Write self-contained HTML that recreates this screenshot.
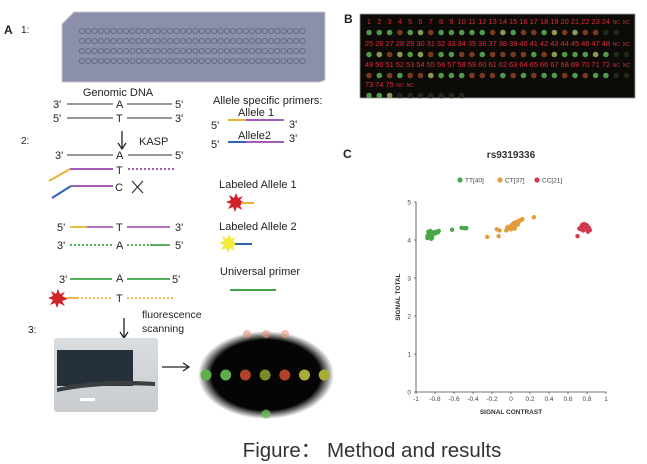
<!DOCTYPE html>
<html><head><meta charset="utf-8"><style>
html,body{margin:0;padding:0;background:#fff;}
svg{display:block;font-family:"Liberation Sans",sans-serif;}
</style></head><body>
<svg id="fig" width="647" height="464" viewBox="0 0 647 464">
<defs>
<radialGradient id="ellg" cx="50%" cy="50%" r="50%"><stop offset="80%" stop-color="#050505"/><stop offset="100%" stop-color="#050505" stop-opacity="0"/></radialGradient>
<linearGradient id="photog" x1="0" y1="0" x2="0" y2="1"><stop offset="0" stop-color="#d9dde0"/><stop offset="1" stop-color="#c9cccf"/></linearGradient>
</defs>
<g font-size="11" fill="#222">
<text x="4" y="34" font-weight="bold" font-size="12">A</text>
<text x="21" y="33" font-size="10">1:</text>
<g>
<path d="M74,12 L325,12 L325,80 L320,82 L62,82 L62,24 Z" fill="#8c8fac" stroke="#c8c8d4"/>
<g id="wells"></g>
</g>
<text x="118" y="96" text-anchor="middle">Genomic DNA</text>
<g stroke-width="1.6">
<text x="53" y="108">3'</text><line x1="67" y1="104" x2="113" y2="104" stroke="#777"/><text x="116" y="108">A</text><line x1="127" y1="104" x2="172" y2="104" stroke="#777"/><text x="175" y="108">5'</text>
<text x="53" y="122">5'</text><line x1="67" y1="118" x2="113" y2="118" stroke="#777"/><text x="116" y="122">T</text><line x1="127" y1="118" x2="172" y2="118" stroke="#777"/><text x="175" y="122">3'</text>
</g>
<text x="21" y="144" font-size="10">2:</text>
<g><line x1="122" y1="131" x2="122" y2="148" stroke="#222" stroke-width="1.3"/><path d="M118,143 L122,149 L126,143" fill="none" stroke="#222" stroke-width="1.3"/></g>
<text x="139" y="145">KASP</text>
<g stroke-width="1.6">
<text x="55" y="159">3'</text><line x1="67" y1="155" x2="113" y2="155" stroke="#777"/><text x="116" y="159">A</text><line x1="128" y1="155" x2="172" y2="155" stroke="#777"/><text x="175" y="159">5'</text>
<line x1="49" y1="181" x2="70" y2="169" stroke="#e8b33a" stroke-width="2"/><line x1="70" y1="169" x2="113" y2="169" stroke="#a45db5" stroke-width="2"/><text x="116" y="174">T</text><line x1="128" y1="169" x2="175" y2="169" stroke="#a45db5" stroke-width="2" stroke-dasharray="2,2"/>
<line x1="52" y1="198" x2="71" y2="186" stroke="#2f63b0" stroke-width="2"/><line x1="71" y1="186" x2="113" y2="186" stroke="#a45db5" stroke-width="2"/><text x="115" y="191">C</text>
<path d="M132,181 L143,193 M143,181 L132,193" stroke="#333" stroke-width="1.2"/>
</g>
<text x="213" y="104">Allele specific primers:</text>
<g>
<text x="238" y="116">Allele 1</text><text x="211" y="129">5'</text><line x1="228" y1="120" x2="246" y2="120" stroke="#e8b33a" stroke-width="2"/><line x1="246" y1="120" x2="284" y2="120" stroke="#a45db5" stroke-width="2"/><text x="289" y="128">3'</text>
<text x="238" y="139">Allele2</text><text x="211" y="148">5'</text><line x1="228" y1="142" x2="246" y2="142" stroke="#2f63b0" stroke-width="2"/><line x1="246" y1="142" x2="284" y2="142" stroke="#a45db5" stroke-width="2"/><text x="289" y="142">3'</text>
</g>
<text x="219" y="188">Labeled Allele 1</text>
<g><polygon points="236,193 238,198 243,196 240,200 245,203 240,205 242,210 237,207 235,212 233,207 228,209 231,204 226,202 231,200 229,195 234,198" fill="#d0202a"/><line x1="241" y1="203" x2="254" y2="203" stroke="#e8b33a" stroke-width="2"/></g>
<text x="219" y="230">Labeled Allele 2</text>
<g><polygon points="229,234 231,239 236,237 233,241 238,244 233,246 235,251 230,248 228,253 226,248 221,250 224,245 219,243 224,241 222,236 227,239" fill="#f2ea3c"/><line x1="235" y1="244" x2="252" y2="244" stroke="#2f63b0" stroke-width="2"/></g>
<g stroke-width="1.8">
<text x="57" y="231">5'</text><line x1="70" y1="227" x2="87" y2="227" stroke="#e8b33a"/><line x1="87" y1="227" x2="113" y2="227" stroke="#a45db5"/><text x="116" y="231">T</text><line x1="127" y1="227" x2="170" y2="227" stroke="#a45db5"/><text x="175" y="231">3'</text>
<text x="57" y="249">3'</text><line x1="70" y1="245" x2="112" y2="245" stroke="#3fa34a" stroke-dasharray="2,2"/><text x="116" y="249">A</text><line x1="127" y1="245" x2="150" y2="245" stroke="#3fa34a" stroke-dasharray="2,2"/><line x1="150" y1="245" x2="170" y2="245" stroke="#3fa34a"/><text x="175" y="249">5'</text>
<text x="59" y="283">3'</text><line x1="70" y1="279" x2="112" y2="279" stroke="#3fa34a"/><text x="116" y="282">A</text><line x1="127" y1="279" x2="170" y2="279" stroke="#3fa34a"/><text x="172" y="283">5'</text>
<polygon points="58,289 60,294 65,292 62,296 68,299 62,301 65,306 59,303 57,308 55,303 50,305 53,300 48,298 53,296 51,291 56,294" fill="#d0202a"/>
<line x1="66" y1="298" x2="77" y2="298" stroke="#e8b33a"/><line x1="77" y1="298" x2="112" y2="298" stroke="#e8b33a" stroke-dasharray="2,2"/><text x="116" y="302">T</text><line x1="127" y1="298" x2="173" y2="298" stroke="#e8b33a" stroke-dasharray="2,2"/>
</g>
<text x="220" y="275">Universal primer</text>
<line x1="230" y1="290" x2="276" y2="290" stroke="#3fa34a" stroke-width="2"/>
<text x="28" y="333" font-size="10">3:</text>
<g><line x1="124" y1="318" x2="124" y2="337" stroke="#222" stroke-width="1.3"/><path d="M120,332 L124,338 L128,332" fill="none" stroke="#222" stroke-width="1.3"/></g>
<text x="142" y="318" font-size="10.5">fluorescence</text>
<text x="142" y="332" font-size="10.5">scanning</text>
<g>
<rect x="54" y="338" width="104" height="74" fill="url(#photog)" rx="3"/>
<rect x="57" y="350" width="76" height="36" fill="#26303a"/>
<path d="M57,388 Q100,378 155,382 L155,386 Q100,383 57,392 Z" fill="#3a3f44"/>
<rect x="80" y="398" width="15" height="3" fill="#fff"/>
</g>
<g><line x1="162" y1="367" x2="188" y2="367" stroke="#222" stroke-width="1.3"/><path d="M183,363 L189,367 L183,371" fill="none" stroke="#222" stroke-width="1.3"/></g>
<g>
<ellipse cx="266" cy="375" rx="68" ry="44" fill="url(#ellg)"/>
<g id="scandots"></g>
</g>
</g>
<text x="344" y="23" font-weight="bold" font-size="12" fill="#222">B</text>
<rect x="360" y="14" width="275" height="84" fill="#0d0b08" stroke="#999" stroke-width="0.8"/>
<g id="plateB"></g>
<text x="343" y="158" font-weight="bold" font-size="12" fill="#222">C</text>
<text x="511" y="158" text-anchor="middle" font-weight="bold" font-size="10" fill="#333">rs9319336</text>
<g id="legend" font-size="6.5" fill="#444"></g>
<g id="chart"></g>
<text x="372" y="457" text-anchor="middle" font-size="20.5" fill="#333">Figure：&#160;Method and results</text>
</svg>
<script>
const groups = ["TT[40]","CT[37]","CC[21]"];
const groupColors = ["#4aa84a","#e39b3c","#d2394a"];
const ttX = [-0.88,-0.87,-0.86,-0.85,-0.84,-0.83,-0.82,-0.88,-0.86,-0.84,-0.82,-0.8,-0.87,-0.85,-0.83,-0.81,-0.79,-0.77,-0.76,-0.86,-0.84,-0.62,-0.52,-0.49,-0.47];
const ttY = [4.1,4.15,4.2,4.12,4.18,4.14,4.2,4.05,4.08,4.1,4.16,4.17,4.22,4.24,4.06,4.2,4.22,4.2,4.24,4.13,4.03,4.27,4.32,4.31,4.31];
const ctX = [-0.25,-0.13,-0.15,-0.12,-0.05,-0.03,-0.02,0,0.01,0.02,0.03,0.04,0.05,0.06,0.07,0.08,0.09,0.1,0.11,0.12,-0.01,0.02,0.04,0.06,-0.04,0.24];
const ctY = [4.08,4.1,4.28,4.25,4.25,4.3,4.35,4.28,4.4,4.32,4.45,4.38,4.42,4.48,4.4,4.47,4.5,4.52,4.53,4.55,4.3,4.36,4.3,4.44,4.33,4.6];
const ccX = [0.7,0.72,0.74,0.75,0.76,0.77,0.78,0.79,0.8,0.81,0.82,0.83,0.76,0.79,0.81,0.74,0.77];
const ccY = [4.1,4.3,4.35,4.4,4.3,4.42,4.35,4.28,4.38,4.3,4.32,4.26,4.25,4.4,4.22,4.28,4.33];
const xTicks = [-1,-0.8,-0.6,-0.4,-0.2,0,0.2,0.4,0.6,0.8,1];
const yTicks = [0,1,2,3,4,5];
const plateLabels = [
 ["1","2","3","4","5","6","7","8","9","10","11","12","13","14","15","16","17","18","19","20","21","22","23","24","NC","NC"],
 ["25","26","27","28","29","30","31","32","33","34","35","36","37","38","39","40","41","42","43","44","45","46","47","48","NC","NC"],
 ["49","50","51","52","53","54","55","56","57","58","59","60","61","62","63","64","65","66","67","68","69","70","71","72","NC","NC"],
 ["73","74","75","NC","NC"]];
const plateCalls = [
 "GGGRGYRGGGGGRYGRRGYRYRRNN",
 "GYRYGYRGGRRGRRRRGRYGGGYGNN",
 "RGRGRRYGGGRRRGRGRGGRGRGGNN",
 "GGYNNNNNNN"];
const scanCalls = ["G","G","R","O","R","Y","Y"];
</script>
<script>
const NS="http://www.w3.org/2000/svg";
function mk(tag,attrs,parent){const e=document.createElementNS(NS,tag);for(const k in attrs)e.setAttribute(k,attrs[k]);parent.appendChild(e);return e;}
const wells=document.getElementById('wells');
for(let r=0;r<4;r++){for(let c=0;c<36;c++){
 const w=mk('circle',{cx:82+c*6.3,cy:31+r*10,r:2.6,fill:'none',stroke:'#5f627c','stroke-width':0.8},wells);
 
 
}}
const sd=document.getElementById('scandots');
const scol={G:'#5fae4a',R:'#b0402a',O:'#7d8a2a',Y:'#a8ad38'};
scanCalls.forEach((c,i)=>{const d=mk('circle',{cx:206+i*19.7,cy:375,r:5.5,fill:scol[c]},sd);
 
 });
[247,266,285].forEach((x,i)=>{const d=mk('circle',{cx:x,cy:334,r:4,fill:'#e6957a',opacity:0.6},sd);
 
 });
{const d=mk('circle',{cx:266,cy:414,r:4.5,fill:'#6bbf5a',opacity:0.8},sd);
 
 }
const pb=document.getElementById('plateB');
const pcol={G:'#4e9a4a',R:'#7a3a22',Y:'#8a9a55',N:'#1f2a1a'};
const rowY=[24,46,67,87];
plateLabels.forEach((row,r)=>{row.forEach((lab,c)=>{
 const nc=lab==="NC";
 const x=369+c*10.3;
 const t=mk('text',{x:x,y:rowY[r],'text-anchor':'middle','font-size':nc?5:7.5,fill:'#e0283a'},pb);
 t.textContent=lab;
 
 
});
 const calls=plateCalls[r];
 for(let c=0;c<calls.length;c++){
  const d=mk('circle',{cx:369+c*10.3,cy:rowY[r]+8.5,r:2.8,fill:pcol[calls[c]]},pb);
  
  
 }
});
const X0=416,X1=606,Y0=392,Y1=202;
const sx=v=>X0+(v+1)/2*(X1-X0);
const sy=v=>Y0-v/5*(Y0-Y1);
const ch=document.getElementById('chart');
const xa=mk('line',{x1:X0,y1:Y0,x2:X1,y2:Y0,stroke:'#444','stroke-width':0.8},ch);


const ya=mk('line',{x1:X0,y1:Y0,x2:X0,y2:Y1,stroke:'#444','stroke-width':0.8},ch);


xTicks.forEach(v=>{mk('line',{x1:sx(v),y1:Y0,x2:sx(v),y2:Y0+2,stroke:'#444','stroke-width':0.7},ch);
 const t=mk('text',{x:sx(v),y:Y0+9,'text-anchor':'middle','font-size':6.5,fill:'#444'},ch);t.textContent=String(v);
 
 });
yTicks.forEach(v=>{mk('line',{x1:X0-2,y1:sy(v),x2:X0,y2:sy(v),stroke:'#444','stroke-width':0.7},ch);
 const t=mk('text',{x:X0-5,y:sy(v)+2.5,'text-anchor':'end','font-size':6.5,fill:'#444'},ch);t.textContent=String(v);
 
 });
const xt=mk('text',{x:511,y:414,'text-anchor':'middle','font-size':6.5,'font-weight':'bold',fill:'#333'},ch);xt.textContent="SIGNAL CONTRAST";


const yt=mk('text',{x:0,y:0,'text-anchor':'middle','font-size':6.5,'font-weight':'bold',fill:'#333',transform:'translate(400,297) rotate(-90)'},ch);yt.textContent="SIGNAL TOTAL";


[[ttX,ttY],[ctX,ctY],[ccX,ccY]].forEach((s,gi)=>{s[0].forEach((xv,i)=>{
 const p=mk('circle',{cx:sx(xv),cy:sy(s[1][i]),r:2.2,fill:groupColors[gi]},ch);
 
 
});});
const lg=document.getElementById('legend');
const lx=[460,500,537];
groups.forEach((g,i)=>{
 const c=mk('circle',{cx:lx[i],cy:180,r:2.6,fill:groupColors[i]},lg);
 
 
 const t=mk('text',{x:lx[i]+5,y:182.5},lg);t.textContent=g;
 
 
});
</script>
</body></html>
